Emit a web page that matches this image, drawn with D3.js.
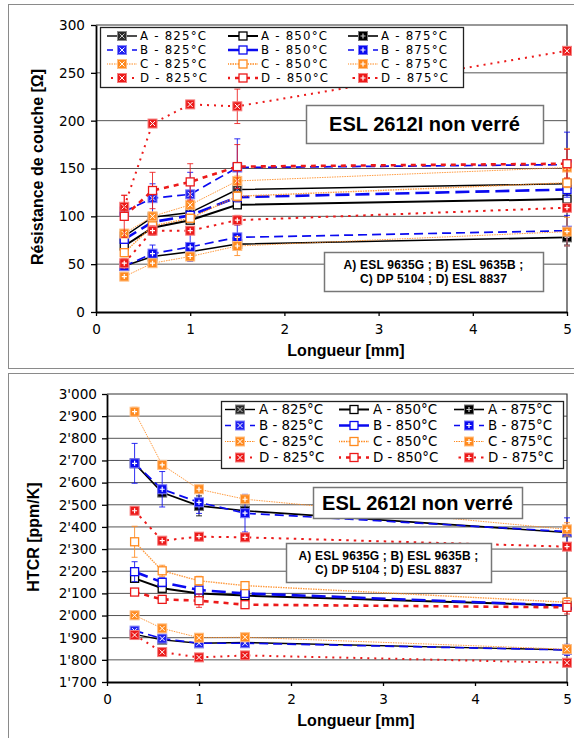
<!DOCTYPE html>
<html>
<head>
<meta charset="utf-8">
<script src="https://cdn.jsdelivr.net/npm/d3@7"></script>
<style>
  html, body { margin: 0; padding: 0; background: #fff; }
  svg { display: block; }
</style>
</head>
<body>
<svg id="chart" width="574" height="738"></svg>
<script>
// ---- data -------------------------------------------------------------
const lengthsMm = [0.3, 0.6, 1, 1.5, 5];
const inks = ["A", "B", "C", "D"];
const firings = ["825°C", "850°C", "875°C"];
const xTicks = [0, 1, 2, 3, 4, 5];
const resTicks = [0, 50, 100, 150, 200, 250, 300];
const htcrTicks = [1700, 1800, 1900, 2000, 2100, 2200, 2300, 2400, 2500, 2600, 2700, 2800, 2900, 3000];

// sheet resistance [Ω]; rows: 825, 850, 875 °C
const resA = [[79, 99, 104, 128, 134], [69, 88, 96, 112, 118], [48, 58, 63, 71, 78]];
const resB = [[105, 119, 123, 151, 154], [76, 94, 101, 120, 128], [48, 61, 68, 78, 85]];
const resC = [[82, 100, 112, 137, 151], [62, 90, 98, 121, 135], [37, 51, 58, 69, 84]];
const resD = [[110, 197, 217, 215, 273], [100, 127, 136, 152, 155], [51, 85, 85, 96, 109]];
const resErrA = [[3, 3, 3, 4, 4], [3, 3, 3, 3, 3], [3, 3, 3, 3, 8]];
const resErrB = [[8, 15, 23, 30, 34], [3, 4, 4, 5, 6], [3, 9, 15, 13, 16]];
const resErrC = [[4, 4, 4, 5, 20], [4, 4, 4, 5, 5], [3, 3, 3, 10, 15]];
const resErrD = [[12, 3, 3, 18, 4], [22, 19, 19, 23, 15], [5, 5, 4, 5, 4]];

// hot TCR [ppm/K]; rows: 825, 850, 875 °C
const htcrA = [[1915, 1890, 1875, 1878, 1845], [2168, 2123, 2100, 2090, 2045], [2687, 2555, 2495, 2473, 2375]];
const htcrB = [[1932, 1896, 1875, 1875, 1845], [2198, 2150, 2115, 2100, 2045], [2687, 2570, 2511, 2462, 2379]];
const htcrC = [[2001, 1942, 1900, 1902, 1848], [2333, 2202, 2157, 2135, 2060], [2920, 2680, 2570, 2525, 2389]];
const htcrD = [[1912, 1835, 1811, 1820, 1787], [2106, 2073, 2067, 2049, 2037], [2473, 2338, 2356, 2353, 2311]];
const htcrErrA = [[8, 8, 8, 8, 8], [15, 10, 10, 30, 10], [10, 15, 45, 20, 10]];
const htcrErrB = [[10, 10, 10, 10, 25], [45, 20, 15, 15, 10], [90, 80, 50, 85, 62]];
const htcrErrC = [[10, 10, 8, 8, 10], [70, 25, 20, 15, 20], [20, 10, 10, 10, 30]];
const htcrErrD = [[8, 8, 8, 8, 8], [15, 10, 30, 15, 30], [10, 10, 10, 15, 10]];

const panelTitle = "ESL 2612I non verré";
const inkNote = ["A) ESL 9635G ; B) ESL 9635B ;", "C) DP 5104 ; D) ESL 8837"];

// ---- styles -----------------------------------------------------------
const inkColor = { A: "#000000", B: "#0a0af0", C: "#ff8a1f", D: "#ec1a1a" };
const markFill825 = { A: "#2a2a2a", B: "#2020f0", C: "#ff8a1f", D: "#ec1a1a" };
const lineStyle = {
  A: [{ w: 1.4, dash: null }, { w: 2, dash: null }, { w: 1.6, dash: null }],
  B: [{ w: 1.7, dash: "9,5" }, { w: 2.6, dash: "14,6" }, { w: 1.7, dash: "9,5" }],
  C: [{ w: 1, dash: "1.5,1" }, { w: 1.4, dash: "1.5,1" }, { w: 1, dash: "1.5,1" }],
  D: [{ w: 2, dash: "2,5" }, { w: 2.6, dash: "5,5" }, { w: 2, dash: "2.5,5" }]
};
const TICK_FONT = "'DejaVu Sans', sans-serif";
const BOLD_FONT = "'Liberation Sans', Arial, sans-serif";
const fmtApos = d3.formatLocale({ decimal: ".", thousands: "'", grouping: [3], currency: ["", ""] }).format(",");

const svg = d3.select("#chart");

function drawMarker(g, kind, ink, cx, cy, s) {
  const c = inkColor[ink];
  const h = s / 2;
  if (kind === 1) {
    g.append("rect").attr("x", cx - h).attr("y", cy - h).attr("width", s).attr("height", s)
      .attr("fill", "#fff").attr("stroke", c).attr("stroke-width", 1.3);
    return;
  }
  const fill = kind === 0 ? markFill825[ink] : c;
  g.append("rect").attr("x", cx - h - 0.5).attr("y", cy - h - 0.5).attr("width", s + 1).attr("height", s + 1)
    .attr("fill", fill).attr("stroke", d3.interpolateRgb(fill, "#fff")(0.45)).attr("stroke-width", 1);
  const mark = ink === "A" ? "#c8c8c8" : "#ffffff";
  const k = h - 1.5;
  if (kind === 0) {
    g.append("path").attr("d", `M${cx - k},${cy - k}L${cx + k},${cy + k}M${cx + k},${cy - k}L${cx - k},${cy + k}`)
      .attr("stroke", mark).attr("stroke-width", 1).attr("fill", "none");
  } else {
    g.append("path").attr("d", `M${cx - k},${cy}L${cx + k},${cy}M${cx},${cy - k}L${cx},${cy + k}`)
      .attr("stroke", mark).attr("stroke-width", 1.2).attr("fill", "none");
  }
}

function drawPanel(cfg) {
  const x = d3.scaleLinear().domain([0, 5]).range([cfg.left, cfg.right]);
  const y = d3.scaleLinear().domain(cfg.yDomain).range([cfg.bottom, cfg.top]);
  const g = svg.append("g");

  // outer frame
  g.append("rect").attr("x", 8.5).attr("y", cfg.frameTop + 0.5).attr("width", 580).attr("height", cfg.frameH)
    .attr("fill", "none").attr("stroke", "#8a8a8a").attr("stroke-width", 1);

  // gridlines
  g.append("g").selectAll("line").data(cfg.yTicks.slice(1, -1)).join("line")
    .attr("x1", cfg.left).attr("x2", cfg.right)
    .attr("y1", d => y(d)).attr("y2", d => y(d))
    .attr("stroke", "#555").attr("stroke-width", 1);
  // plot-area top and right border
  g.append("path").attr("d", `M${cfg.left},${cfg.top}H${cfg.right}V${cfg.bottom}`)
    .attr("fill", "none").attr("stroke", "#333").attr("stroke-width", 1.2);

  // axes
  const ya = g.append("g").attr("transform", `translate(${cfg.left},0)`)
    .call(d3.axisLeft(y).tickValues(cfg.yTicks).tickFormat(cfg.yFmt).tickSize(5).tickSizeOuter(0).tickPadding(cfg.yPad));
  const xa = g.append("g").attr("transform", `translate(0,${cfg.bottom})`)
    .call(d3.axisBottom(x).tickValues(xTicks).tickFormat(d3.format("d")).tickSize(4).tickSizeOuter(0).tickPadding(8));
  [ya, xa].forEach(a => {
    a.select(".domain").attr("stroke", "#000").attr("stroke-width", 1.8);
    a.selectAll(".tick line").attr("stroke", "#000").attr("stroke-width", 1.3);
    a.selectAll("text").attr("font-family", TICK_FONT).attr("font-size", 13.6).attr("fill", "#000");
  });

  // axis titles
  g.append("text").attr("transform", `translate(${cfg.yTitleX},${cfg.yTitleY}) rotate(-90)`)
    .attr("text-anchor", "middle").attr("dy", "0.35em")
    .attr("font-family", BOLD_FONT).attr("font-weight", "bold").attr("font-size", 16)
    .text(cfg.yTitle);
  g.append("text").attr("x", cfg.xTitleX).attr("y", cfg.xTitleY)
    .attr("text-anchor", "middle").attr("dy", "0.35em")
    .attr("font-family", BOLD_FONT).attr("font-weight", "bold").attr("font-size", 16)
    .text("Longueur [mm]");

  // series, in Excel order: A 825/850/875, B ..., D ...
  const series = g.append("g");
  inks.forEach(ink => {
    const vals = cfg.values[ink], errs = cfg.errors[ink];
    firings.forEach((f, k) => {
      const c = inkColor[ink];
      const sg = series.append("g");
      const pts = lengthsMm.map((L, i) => ({ L, v: vals[k][i], e: errs[k][i] }));
      // error bars
      pts.forEach(p => {
        const x0 = x(p.L), y1 = y(p.v + p.e), y2 = y(p.v - p.e);
        sg.append("path").attr("d", `M${x0},${y1}V${y2}M${x0 - 3},${y1}H${x0 + 3}M${x0 - 3},${y2}H${x0 + 3}`)
          .attr("stroke", c).attr("stroke-width", 1).attr("fill", "none").attr("opacity", 0.85);
      });
      const st = lineStyle[ink][k];
      sg.append("path").datum(pts)
        .attr("d", d3.line().x(p => x(p.L)).y(p => y(p.v)))
        .attr("fill", "none").attr("stroke", c).attr("stroke-width", st.w)
        .attr("stroke-dasharray", st.dash).attr("opacity", ink === "C" ? 0.85 : 1);
      pts.forEach(p => drawMarker(sg, k, ink, x(p.L), y(p.v), 8));
    });
  });

  // legend
  const lg = g.append("g");
  const lb = cfg.legend;
  lg.append("rect").attr("x", lb.x + 0.5).attr("y", lb.y + 0.5).attr("width", lb.w).attr("height", lb.h)
    .attr("fill", "#fff").attr("stroke", "#222").attr("stroke-width", 1.3);
  inks.forEach((ink, r) => {
    firings.forEach((f, k) => {
      const cx = lb.cols[k], cy = lb.rows[r];
      const st = lineStyle[ink][k];
      lg.append("line").attr("x1", cx - 15).attr("x2", cx + 15).attr("y1", cy).attr("y2", cy)
        .attr("stroke", inkColor[ink]).attr("stroke-width", st.w).attr("stroke-dasharray", st.dash)
        .attr("stroke-dashoffset", st.dash ? 3 : 0);
      drawMarker(lg, k, ink, cx, cy, 8);
      lg.append("text").attr("x", cx + lb.textOff).attr("y", cy).attr("dy", "0.36em")
        .attr("font-family", TICK_FONT).attr("font-size", lb.font).attr("letter-spacing", lb.ls)
        .attr("fill", "#000")
        .text(`${ink} - ${f}`);
    });
  });

  // title box
  const tb = cfg.titleBox;
  g.append("rect").attr("x", tb.x + 0.5).attr("y", tb.y + 0.5).attr("width", tb.w).attr("height", tb.h)
    .attr("fill", "#fff").attr("stroke", "#777").attr("stroke-width", 1.5);
  g.append("text").attr("x", tb.x + tb.w / 2).attr("y", tb.y + tb.h / 2).attr("dy", "0.36em")
    .attr("text-anchor", "middle").attr("font-family", BOLD_FONT).attr("font-weight", "bold")
    .attr("font-size", 20).text(panelTitle);

  // ink key box
  const nb = cfg.noteBox;
  g.append("rect").attr("x", nb.x + 0.5).attr("y", nb.y + 0.5).attr("width", nb.w).attr("height", nb.h)
    .attr("fill", "#fff").attr("stroke", "#777").attr("stroke-width", 1.5);
  inkNote.forEach((t, i) => {
    g.append("text").attr("x", nb.x + nb.w / 2).attr("y", nb.y + nb.h / 2 + (i - 0.5) * 14).attr("dy", "0.36em")
      .attr("text-anchor", "middle").attr("font-family", BOLD_FONT).attr("font-weight", "bold")
      .attr("font-size", 12).attr("letter-spacing", 0.2).text(t);
  });
}

drawPanel({
  frameTop: 4, frameH: 364,
  left: 96, right: 567, top: 25, bottom: 312,
  yDomain: [0, 300], yTicks: resTicks, yFmt: d3.format("d"), yPad: 6,
  yTitle: "Résistance de couche [Ω]", yTitleX: 37, yTitleY: 167,
  xTitleX: 346, xTitleY: 350,
  values: { A: resA, B: resB, C: resC, D: resD },
  errors: { A: resErrA, B: resErrB, C: resErrC, D: resErrD },
  legend: { x: 100, y: 27, w: 363, h: 60, cols: [122, 243, 363], rows: [36, 50, 64, 78], textOff: 18, font: 11.8, ls: 1.2 },
  titleBox: { x: 306, y: 105, w: 237, h: 38 },
  noteBox: { x: 324, y: 252, w: 219, h: 39 }
});

drawPanel({
  frameTop: 373, frameH: 380,
  left: 107, right: 567, top: 394, bottom: 682,
  yDomain: [1700, 3000], yTicks: htcrTicks, yFmt: fmtApos, yPad: 5,
  yTitle: "HTCR [ppm/K]", yTitleX: 33, yTitleY: 537,
  xTitleX: 356, xTitleY: 720,
  values: { A: htcrA, B: htcrB, C: htcrC, D: htcrD },
  errors: { A: htcrErrA, B: htcrErrB, C: htcrErrC, D: htcrErrD },
  legend: { x: 221, y: 401, w: 342, h: 67, cols: [240, 354, 469], rows: [409.5, 425.5, 441.5, 457.5], textOff: 19, font: 13.4, ls: 0 },
  titleBox: { x: 313, y: 487, w: 209, h: 31 },
  noteBox: { x: 286, y: 543, w: 205, h: 39 }
});
</script>
</body>
</html>
